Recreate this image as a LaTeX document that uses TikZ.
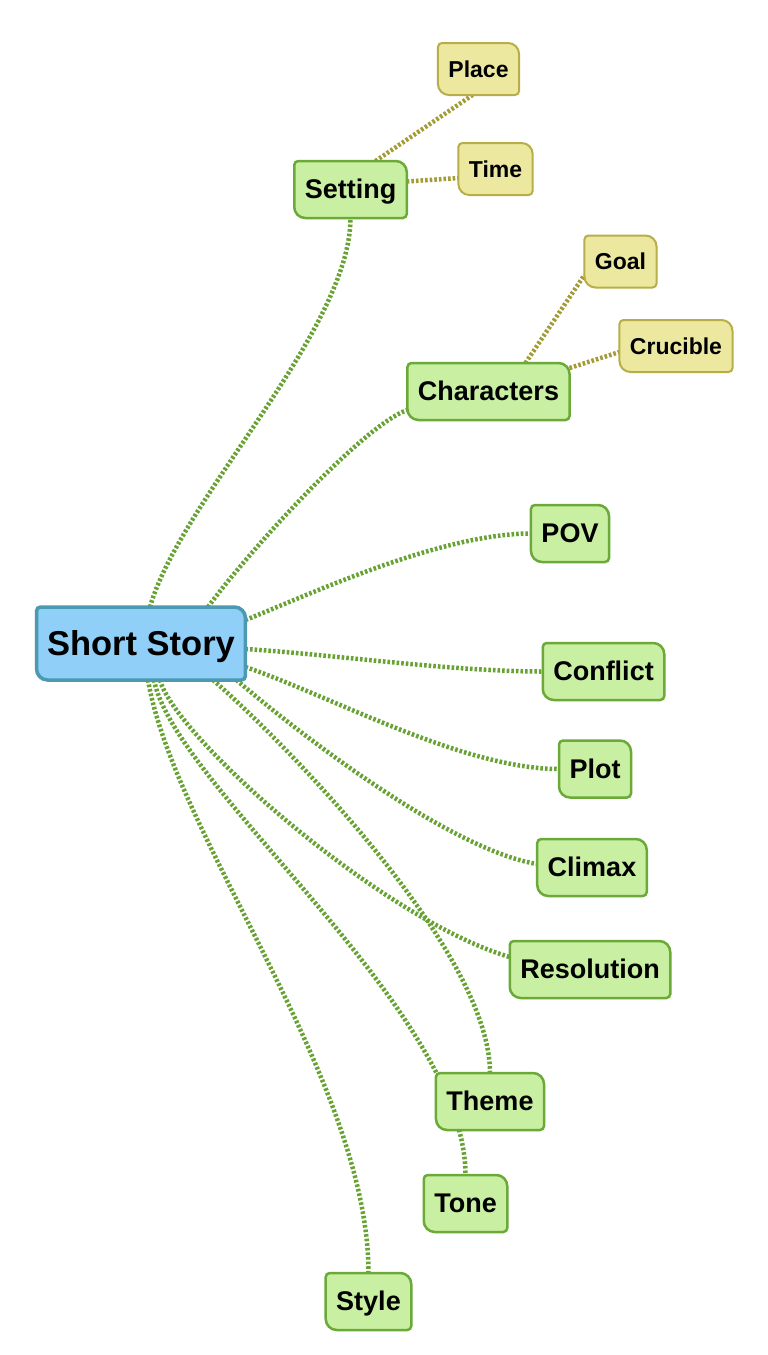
\documentclass[tikz,border=0pt]{standalone}
\usepackage{fontspec}
\setmainfont{Liberation Sans}
\usetikzlibrary{calc}
\definecolor{bluefill}{HTML}{8FCFF8}
\definecolor{blueline}{HTML}{4B9AB2}
\definecolor{greenfill}{HTML}{C8EFA2}
\definecolor{greenline}{HTML}{6BAA38}
\definecolor{yelfill}{HTML}{EDE89F}
\definecolor{yelline}{HTML}{B8AE48}
\definecolor{conngreen}{HTML}{67A233}
\definecolor{connyel}{HTML}{A39B36}
\pgfdeclarelayer{bg}
\pgfdeclarelayer{edges}
\pgfdeclarelayer{boxes}
\pgfsetlayers{bg,edges,boxes,main}

\newcommand\mmbox[5]{%
  \node[#3] (#1) at (#2) {#5};
  \begin{pgfonlayer}{boxes}
  \draw[#4] ($(#1.north west)+(0,-4)$) arc[start angle=180,end angle=90,radius=4]
    -- ($(#1.north east)+(-11,0)$) arc[start angle=90,end angle=0,radius=11]
    -- ($(#1.south east)+(0,4)$) arc[start angle=0,end angle=-90,radius=4]
    -- ($(#1.south west)+(11,0)$) arc[start angle=270,end angle=180,radius=11]
    -- cycle;
  \end{pgfonlayer}
}

\tikzset{
  basetxt/.style={inner xsep=10.5pt, inner ysep=0pt, outer sep=0pt, text=black},
  bluetxt/.style={basetxt, font=\bfseries\fontsize{34.5}{38}\selectfont,
    text height=31pt, text depth=7pt, minimum height=73pt},
  greentxt/.style={basetxt, font=\bfseries\fontsize{27}{30}\selectfont,
    text height=24.3pt, text depth=5.4pt, minimum height=57pt},
  yeltxt/.style={basetxt, font=\bfseries\fontsize{23}{26}\selectfont,
    text height=20.7pt, text depth=4.6pt, minimum height=52pt},
  blueshape/.style={fill=bluefill, draw=blueline, line width=3.5pt},
  greenshape/.style={fill=greenfill, draw=greenline, line width=2.5pt},
  yelshape/.style={fill=yelfill, draw=yelline, line width=2pt},
  gconn/.style={draw=conngreen, line width=4.5pt, dash pattern=on 2.6pt off 2pt},
  yconn/.style={draw=connyel, line width=4.5pt, dash pattern=on 2.6pt off 2pt},
}

\begin{document}
\begin{tikzpicture}[x=1pt,y=1pt]
\begin{pgfonlayer}{bg}
\fill[white] (0,0) rectangle (768,-1355);
\end{pgfonlayer}
\useasboundingbox (0,0) rectangle (768,-1355);

\mmbox{SS}{141,-643.5}{bluetxt}{blueshape}{Short Story}
\mmbox{Setting}{350.5,-189.5}{greentxt}{greenshape}{Setting}
\mmbox{Place}{478.5,-69}{yeltxt}{yelshape}{Place}
\mmbox{Time}{495.5,-169}{yeltxt}{yelshape}{Time}
\mmbox{Char}{488.5,-391.5}{greentxt}{greenshape}{Characters}
\mmbox{Goal}{620.5,-261.5}{yeltxt}{yelshape}{Goal}
\mmbox{Crucible}{676,-346}{yeltxt}{yelshape}{Crucible}
\mmbox{POV}{570,-533.5}{greentxt}{greenshape}{POV}
\mmbox{Conflict}{603.5,-671.5}{greentxt}{greenshape}{Conflict}
\mmbox{Plot}{595,-769}{greentxt}{greenshape}{Plot}
\mmbox{Climax}{592,-867.5}{greentxt}{greenshape}{Climax}
\mmbox{Resolution}{590,-969.5}{greentxt}{greenshape}{Resolution}
\mmbox{Theme}{490,-1101.5}{greentxt}{greenshape}{Theme}
\mmbox{Tone}{465.5,-1203.5}{greentxt}{greenshape}{Tone}
\mmbox{Style}{368.5,-1301.5}{greentxt}{greenshape}{Style}

\begin{pgfonlayer}{edges}
\draw[gconn] ([xshift=9pt]SS.north) .. controls +(30,106) and +(0,-112) .. (Setting.south);
\draw[gconn] ([xshift=67pt]SS.north) .. controls +(37,51) and +(-45,-15) .. ([yshift=10pt]Char.south west);
\draw[gconn] ([yshift=23.5pt]SS.east) .. controls +(63,25) and +(-91,0) .. (POV.west);
\draw[gconn] ([yshift=-5.5pt]SS.east) .. controls +(93,-6) and +(-92,0) .. (Conflict.west);
\draw[gconn] ([yshift=-23.5pt]SS.east) .. controls +(83,-28) and +(-96,0) .. (Plot.west);
\draw[gconn] ([xshift=-9pt]SS.south east) .. controls +(63,-54) and +(-87,14) .. ([yshift=3.5pt]Climax.west);
\draw[gconn] ([xshift=19pt]SS.south) .. controls +(15,-57) and +(-127,37) .. ([yshift=12.5pt]Resolution.west);
\draw[gconn] ([xshift=72pt]SS.south) .. controls +(67,-58) and +(0,123) .. (Theme.north);
\draw[gconn] ([xshift=13pt]SS.south) .. controls +(21,-107) and +(0,165) .. (Tone.north);
\draw[gconn] ([xshift=7pt]SS.south) .. controls +(27,-157) and +(0,193) .. (Style.north);
\draw[yconn] ([xshift=25pt]Setting.north) -- ([xshift=-6pt]Place.south);
\draw[yconn] ([yshift=8pt]Setting.east) -- ([yshift=-9pt]Time.west);
\draw[yconn] ([xshift=37pt]Char.north) -- ([yshift=-13.5pt]Goal.west);
\draw[yconn] ([yshift=-5pt]Char.north east) -- ([yshift=-6pt]Crucible.west);
\end{pgfonlayer}
\end{tikzpicture}
\end{document}
